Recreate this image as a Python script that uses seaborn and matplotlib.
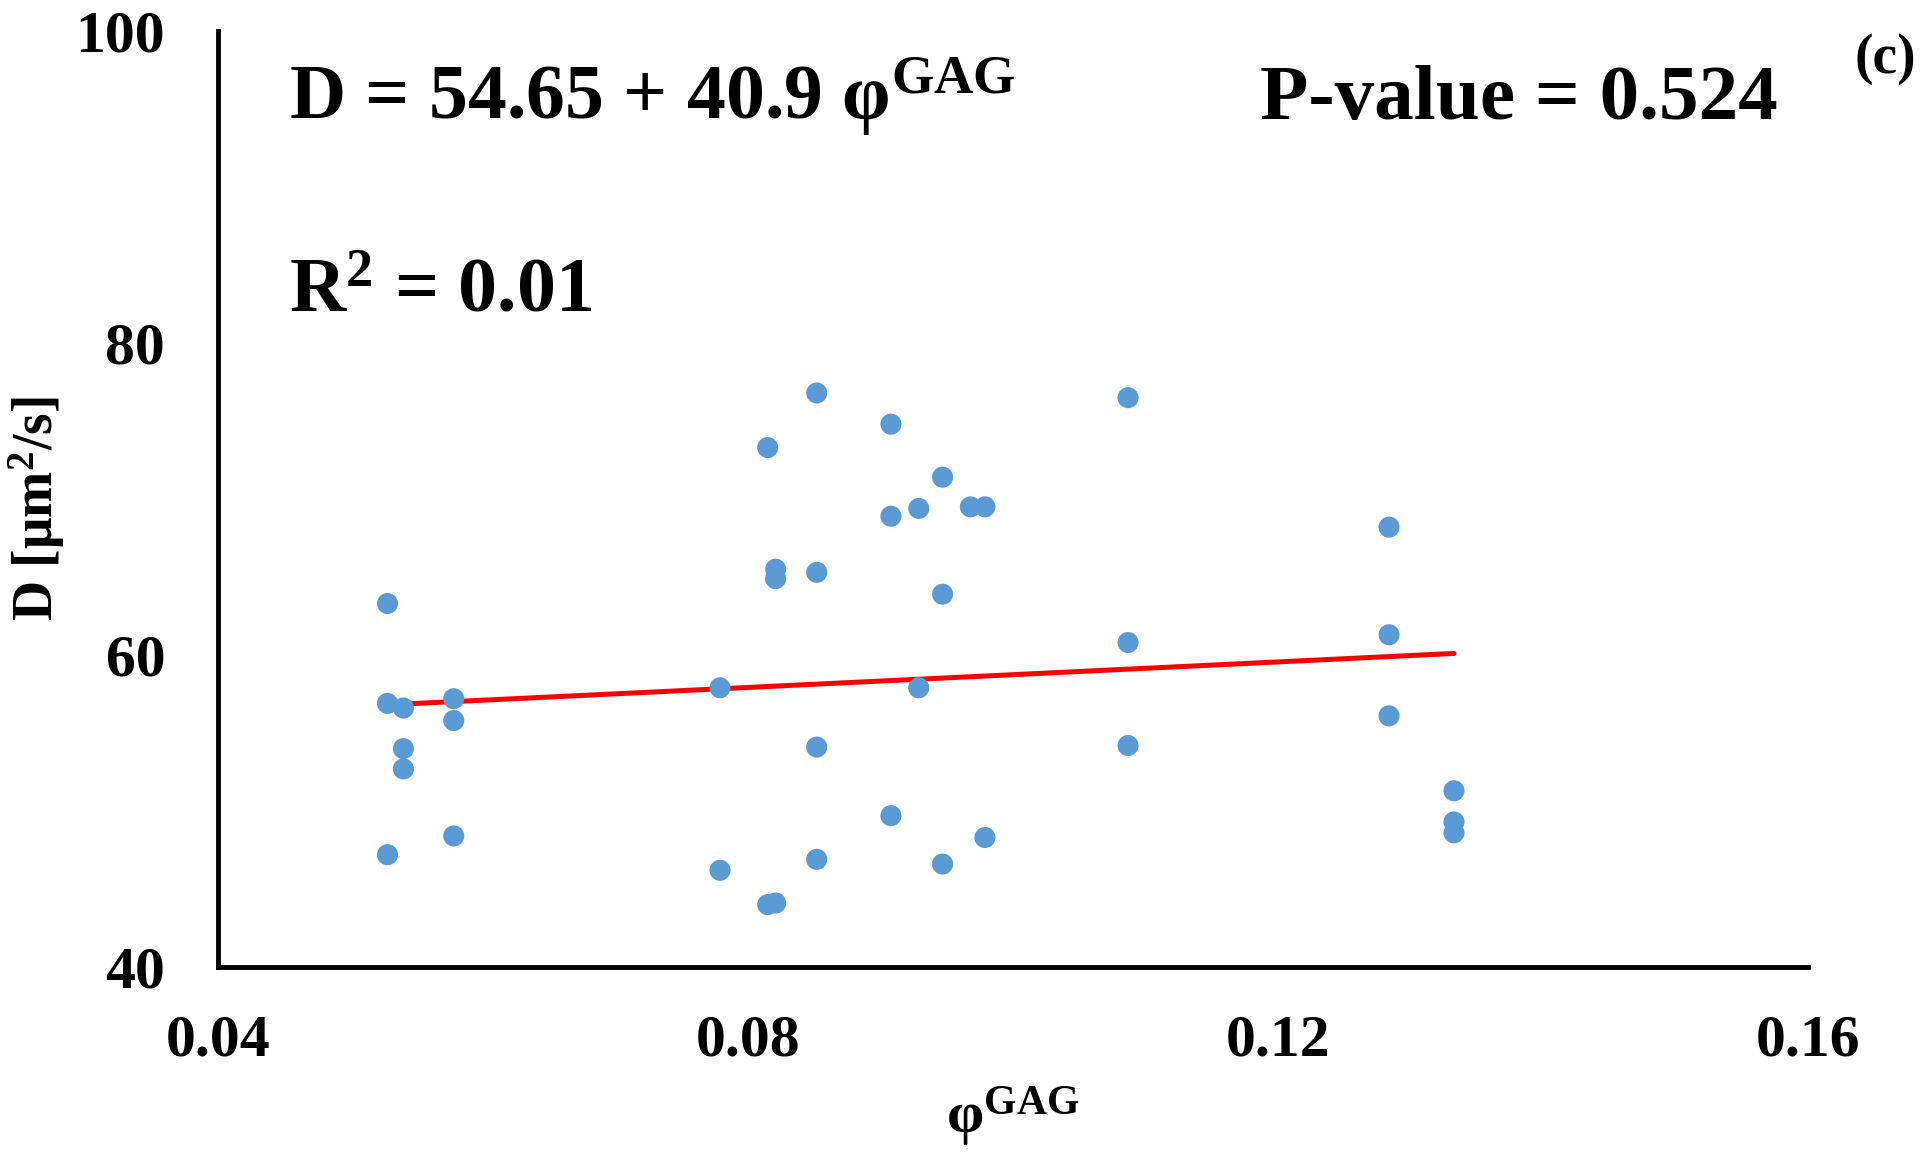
import numpy as np
import pandas as pd
import matplotlib.pyplot as plt
import seaborn as sns

# ─── DATA ─────────────────────────────────────────────────
phi_gag = [0.0528, 0.0528, 0.0528,
           0.0540, 0.0540, 0.0540,
           0.0578, 0.0578, 0.0578,
           0.0779, 0.0779,
           0.0815, 0.0815,
           0.0821, 0.0821, 0.0821,
           0.0852, 0.0852, 0.0852, 0.0852,
           0.0908, 0.0908, 0.0908,
           0.0929, 0.0929,
           0.0947, 0.0947, 0.0947,
           0.0968,
           0.0979, 0.0979,
           0.1087, 0.1087, 0.1087,
           0.1284, 0.1284, 0.1284,
           0.1333, 0.1333, 0.1333]
diff_d = [63.3, 56.9, 47.2,
          56.6, 54.0, 52.7,
          57.2, 55.8, 48.4,
          57.9, 46.2,
          73.3, 44.0,
          65.5, 64.9, 44.1,
          76.8, 65.3, 54.1, 46.9,
          74.8, 68.9, 49.7,
          69.4, 57.9,
          71.4, 63.9, 46.6,
          69.5,
          69.5, 48.3,
          76.5, 60.8, 54.2,
          68.2, 61.3, 56.1,
          51.3, 49.3, 48.6]

# trendline as reported on the chart
INTERCEPT = 54.65
SLOPE = 40.9
R2 = 0.01
P_VALUE = 0.524

x_ticks = [0.04, 0.08, 0.12, 0.16]
y_ticks = [40, 60, 80, 100]

df = pd.DataFrame({'phi': phi_gag, 'D': diff_d})
x_fit = np.array([df['phi'].min(), df['phi'].max()])
fit_df = pd.DataFrame({'phi': x_fit, 'D': INTERCEPT + SLOPE * x_fit})

# ─── STYLE ────────────────────────────────────────────────
sns.set_style('white')
plt.rcParams['font.family'] = ['Liberation Serif', 'DejaVu Serif']
plt.rcParams['font.weight'] = 'bold'
plt.rcParams['mathtext.fontset'] = 'custom'
plt.rcParams['mathtext.rm'] = 'Liberation Serif:bold'
plt.rcParams['mathtext.it'] = 'Liberation Serif:bold'
plt.rcParams['mathtext.bf'] = 'Liberation Serif:bold'
for key in ['text.color', 'axes.labelcolor', 'xtick.color', 'ytick.color']:
    plt.rcParams[key] = 'black'

fig = plt.figure(figsize=(19.2, 11.52), dpi=100)
ax = fig.add_axes([0.1135, 0.1606, 0.828, 0.8124])

# ─── PLOT ─────────────────────────────────────────────────
sns.lineplot(data=fit_df, x='phi', y='D', color='#FF0000', linewidth=3.6,
             ax=ax, zorder=2)
sns.scatterplot(data=df, x='phi', y='D', color='#5B9BD5', s=230,
                edgecolor='none', ax=ax, zorder=3)

ax.set_xlim(0.04, 0.16)
ax.set_ylim(40, 100)
ax.set_xticks(x_ticks)
ax.set_xticklabels([f'{t:.2f}' for t in x_ticks])
ax.set_yticks(y_ticks)
ax.set_yticklabels([str(t) for t in y_ticks])
ax.tick_params(axis='both', length=0, labelsize=43)
ax.tick_params(axis='x', pad=34)
ax.tick_params(axis='y', pad=38)

for side in ['top', 'right']:
    ax.spines[side].set_visible(False)
for side in ['left', 'bottom']:
    ax.spines[side].set_color('black')
    ax.spines[side].set_linewidth(3.5)

ax.set_xlabel('φ$^{GAG}$', fontsize=43, fontweight='bold')
ax.xaxis.set_label_coords(0.5, -0.125)
ax.set_ylabel('D [μm$^{2}$/s]', fontsize=40, fontweight='bold')
ax.yaxis.set_label_coords(-0.095, 0.49)

# ─── ANNOTATIONS ──────────────────────────────────────────
ax.text(0.045, 0.906, f'D = {INTERCEPT} + {SLOPE} φ$^{{GAG}}$',
        transform=ax.transAxes, fontsize=56, fontweight='bold', va='baseline')
ax.text(0.045, 0.70, f'R$^{{2}}$ = {R2}',
        transform=ax.transAxes, fontsize=56, fontweight='bold', va='baseline')
ax.text(0.981, 0.906, f'P-value = {P_VALUE}',
        transform=ax.transAxes, fontsize=57, fontweight='bold', va='baseline',
        ha='right')
ax.text(1.068, 0.955, '(c)', transform=ax.transAxes, fontsize=40,
        fontweight='bold', va='baseline', ha='right')

plt.savefig('out.png', dpi=100)
plt.close()
